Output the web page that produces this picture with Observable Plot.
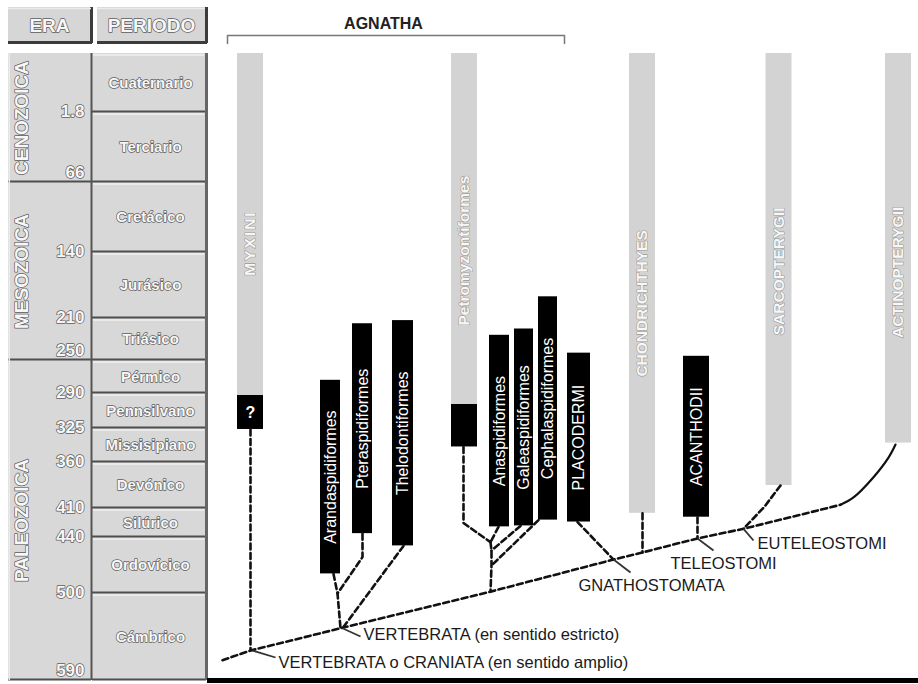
<!DOCTYPE html>
<html><head><meta charset="utf-8">
<script src="https://cdn.jsdelivr.net/npm/d3@7"></script>
<script src="https://cdn.jsdelivr.net/npm/@observablehq/plot@0.6"></script>
<style>
body{margin:0;background:#fff;}
#chart svg{display:block;}
</style></head><body><div id="chart"></div>
<script>
// ================= DATA =================
// Geologic time scale (Ma)
const ageStops = [0, 1.8, 66, 140, 210, 250, 290, 325, 360, 410, 440, 500, 590];
const eraNames = ["CENOZOICA", "MESOZOICA", "PALEOZOICA"];
const eraStart = [0, 66, 250];
const eraEnd = [66, 250, 590];
const periodNames = ["Cuaternario", "Terciario", "Cretácico", "Jurásico", "Triásico", "Pérmico",
  "Pennsilvano", "Missisipiano", "Devónico", "Silúrico", "Ordovícico", "Cámbrico"];
const periodStart = [0, 1.8, 66, 140, 210, 250, 290, 325, 360, 410, 440, 500];
const periodEnd = [1.8, 66, 140, 210, 250, 290, 325, 360, 410, 440, 500, 590];
const boundaryLabels = ["1.8", "66", "140", "210", "250", "290", "325", "360", "410", "440", "500", "590"];
const boundaryAges = [1.8, 66, 140, 210, 250, 290, 325, 360, 410, 440, 500, 590];
const eraEndLabels = ["66", "250", "590"];

// Taxa
const taxonNames = ["MYXINI", "Arandaspidiformes", "Pteraspidiformes", "Thelodontiformes",
  "Petromyzontiformes", "Anaspidiformes", "Galeaspidiformes", "Cephalaspidiformes",
  "PLACODERMI", "CHONDRICHTHYES", "ACANTHODII", "SARCOPTERYGII", "ACTINOPTERYGII"];
// living lineages (grey): from present (0 Ma) back to this age
const livingUntil = [292, null, null, null, 301, null, null, null, null, 415, null, 385, 340];
const livingLabelAge = [130, null, null, null, 138, null, null, null, null, 194, null, 160, 161];
// fossil record (black): top and bottom ages (Ma)
const fossilTop = [292, 274, 215, 212, 301, 226, 220, 187, 243, null, 246, null, null];
const fossilBottom = [326, 479, 436, 449, 344, 429, 428, 422, 424, null, 419, null, null];
const fossilLabel = ["?", "Arandaspidiformes", "Pteraspidiformes", "Thelodontiformes", "",
  "Anaspidiformes", "Galeaspidiformes", "Cephalaspidiformes", "PLACODERMI", null, "ACANTHODII", null, null];

// Clade names
const groupName = "AGNATHA";
const nodeLabelNames = ["VERTEBRATA o CRANIATA (en sentido amplio)", "VERTEBRATA (en sentido estricto)",
  "GNATHOSTOMATA", "TELEOSTOMI", "EUTELEOSTOMI"];

// ================= LAYOUT (positions / sizes) =================
const column = [250, 330, 362, 402.5, 464, 499, 523.5, 547.5, 578.5, 642, 696, 778.5, 898];
const fossilWidth = [26, 20, 20, 21, 26, 20, 19, 19, 23, null, 26, null, null];
const livingWidth = 26;
const eraCol = [8, 91], periodCol = [92, 206];
const agnathaSpan = [227, 564];

// tree nodes [layout x, age Ma]
const N = {
  base: [222, 569], craniata: [250, 559], vertebrata: [340, 536], jPter: [337, 500],
  bPter: [362, 461], petroClade: [490, 498], jCeph: [491, 470], jGalea: [491, 454],
  jAnasp: [490, 445], bPetro: [463, 425], gnatho: [613, 463.6], jChondr: [642, 456],
  teleo: [697, 441], euteleo: [743, 431], actinoCurve: [840, 406]
};
const stemPath = ["base", "craniata", "vertebrata", "petroClade", "gnatho", "jChondr", "teleo", "euteleo", "actinoCurve"];
const branches = [
  [[250, 326], N.craniata],
  [[333, 479], N.jPter, N.vertebrata],
  [[362, 436], N.bPter, N.jPter],
  [[403, 449], [342, 536]],
  [[463, 344], N.bPetro, N.jAnasp],
  [[498, 429], N.jAnasp],
  [[520, 428], N.jGalea],
  [[538, 422], N.jCeph],
  [N.jAnasp, N.jGalea, N.jCeph, N.petroClade],
  [[577, 424], N.gnatho],
  [[642, 415], N.jChondr],
  [[697, 419], N.teleo],
  [[780, 385], [764, 408], N.euteleo]
];
const actinoCurve = [N.actinoCurve, [853, 398], [873, 376], [888, 355], [895, 341.5]];
// node label ticks: [node, tick end, label position]
const nodeTicks = [
  [[252, 559], [275, 566.2], [278, 571.4]],
  [[342, 536], [360, 544.5], [363, 542.4]],
  [N.gnatho, [630, 477.5], [578, 491.4]],
  [N.teleo, [713, 454], [670, 467.9]],
  [N.euteleo, [753, 443.2], [757, 446.4]]
];

// ================= BUILD =================
const FONT = "'Liberation Sans', Arial, Helvetica, sans-serif";
const W = 918;
const EMB = "#f7f7f7";      // embossed light text
const yOpts = {type: "linear", domain: ageStops, range: [0, 59, 129, 199, 265, 307, 340, 375, 409, 455, 484, 540, 627]};
const yS = Plot.scale({y: yOpts});
const mid = (a, b) => yS.invert((yS.apply(a) + yS.apply(b)) / 2);
const xOpts = {type: "linear", domain: [0, W], range: [0, W]};
// embossed text style: light fill with dark rim
const emb = {fill: EMB, stroke: "#5c5c5c", strokeWidth: 1.4, paintOrder: "stroke", fontWeight: "bold"};
const embSoft = {fill: EMB, stroke: "#9a9a9a", strokeWidth: 1.2, paintOrder: "stroke", fontWeight: "bold"};

const eras = eraNames.map((n, i) => ({name: n, start: eraStart[i], end: eraEnd[i], mid: mid(eraStart[i], eraEnd[i])}));
const periods = periodNames.map((n, i) => ({name: n, start: periodStart[i], end: periodEnd[i], mid: mid(periodStart[i], periodEnd[i])}));
const bounds = boundaryLabels.map((l, i) => ({label: l, age: boundaryAges[i], eraEnd: eraEndLabels.includes(l)}));

const living = [], fossils = [];
taxonNames.forEach((n, i) => {
  if (livingUntil[i] != null) living.push({name: n, x: column[i], top: 0, bottom: livingUntil[i], labelAge: livingLabelAge[i]});
  if (fossilTop[i] != null) fossils.push({name: n, x: column[i], w: fossilWidth[i], top: fossilTop[i], bottom: fossilBottom[i],
    label: fossilLabel[i], mid: mid(fossilTop[i], fossilBottom[i])});
});

const segs = [];
const addPath = (pts, id) => pts.forEach(p => segs.push({id, x: p[0], y: p[1]}));
addPath(stemPath.map(k => N[k]), "stem");
branches.forEach((b, i) => addPath(b, "b" + i));
const curvePts = actinoCurve.map(p => ({x: p[0], y: p[1]}));
const ticks = nodeTicks.map((t, i) => ({x1: t[0][0], y1: t[0][1], x2: t[1][0], y2: t[1][1], lx: t[2][0], ly: t[2][1], label: nodeLabelNames[i]}));

const header = Plot.plot({
  width: W, height: 53, margin: 0,
  x: xOpts, y: {type: "linear", domain: [0, 53], range: [0, 53]},
  style: {fontFamily: FONT, background: "white"},
  marks: [
    Plot.rect([{a: eraCol[0], b: eraCol[1] + 1}, {a: 97, b: 207}], {x1: "a", x2: "b", y1: 7, y2: 43, fill: "#d6d6d6"}),
    Plot.ruleY([{a: eraCol[0], b: eraCol[1] + 1}, {a: 97, b: 207}], {x1: "a", x2: "b", y: 42, stroke: "#3c3c3c", strokeWidth: 3}),
    Plot.ruleX([{x: eraCol[1]}, {x: 206}], {x: "x", y1: 7, y2: 43, stroke: "#3c3c3c", strokeWidth: 3}),
    Plot.ruleY([{a: eraCol[0], b: eraCol[1]}, {a: 97, b: 205}], {x1: "a", x2: "b", y: 8, stroke: "#ececec", strokeWidth: 1.5}),
    Plot.text([{t: "ERA", x: 49}, {t: "PERIODO", x: 151}], {x: "x", y: 25, text: "t", fontSize: 19, textAnchor: "middle", ...emb}),
    Plot.line([[agnathaSpan[0], 43], [agnathaSpan[0], 35], [agnathaSpan[1], 35], [agnathaSpan[1], 43]], {stroke: "#777", strokeWidth: 1.5}),
    Plot.text([groupName], {x: 383, y: 23, fontSize: 16, fontWeight: "bold", fill: "#222"})
  ]
});

const main = Plot.plot({
  width: W, height: 631, margin: 0,
  x: xOpts, y: yOpts,
  style: {fontFamily: FONT, background: "white"},
  marks: [
    // geologic panel
    Plot.rect(eras, {x1: eraCol[0], x2: eraCol[1], y1: "start", y2: "end", fill: "#d8d8d8"}),
    Plot.rect(periods, {x1: periodCol[0], x2: periodCol[1], y1: "start", y2: "end", fill: "#d8d8d8"}),
    Plot.ruleY(periods, {y: "start", x1: periodCol[0] + 1, x2: periodCol[1] - 2, stroke: "#f0f0f0", strokeWidth: 1.5, dy: 1.5}),
    Plot.ruleY(periods, {y: "end", x1: periodCol[0], x2: periodCol[1], stroke: "#4e4e4e", strokeWidth: 2, dy: -1}),
    Plot.ruleY(eras, {y: "end", x1: eraCol[0], x2: eraCol[1], stroke: "#4e4e4e", strokeWidth: 2, dy: -1}),
    Plot.ruleX([eraCol[1]], {y1: 0, y2: 590, stroke: "#555", strokeWidth: 2}),
    Plot.ruleX([periodCol[1]], {y1: 0, y2: 590, stroke: "#666", strokeWidth: 3}),
    Plot.ruleX([eraCol[0]], {y1: 0, y2: 590, stroke: "#ececec", strokeWidth: 1.5, dx: 0.75}),
    Plot.text(eras, {x: 21, y: "mid", text: "name", rotate: -90, fontSize: 19, ...emb}),
    Plot.text(periods, {x: 150, y: "mid", text: "name", fontSize: 15, ...emb}),
    Plot.text(bounds.filter(d => !d.eraEnd), {x: 84, y: "age", text: "label", fontSize: 17, textAnchor: "end", dy: -1, ...emb}),
    Plot.text(bounds.filter(d => d.eraEnd), {x: 84, y: "age", text: "label", fontSize: 17, textAnchor: "end", dy: -10, ...emb}),
    // base line
    Plot.ruleY([590], {x1: 207, x2: W, stroke: "#000", strokeWidth: 5}),
    // living lineages
    Plot.rect(living, {x1: d => d.x - livingWidth / 2, x2: d => d.x + livingWidth / 2, y1: "top", y2: "bottom", fill: "#d3d3d3"}),
    Plot.text(living, {x: "x", y: "labelAge", text: "name", rotate: -90, fontSize: 15.5, ...embSoft}),
    // fossil ranges
    Plot.rect(fossils, {x1: d => d.x - d.w / 2, x2: d => d.x + d.w / 2, y1: "top", y2: "bottom", fill: "#000"}),
    Plot.text(fossils.filter(d => d.label && d.label !== "?"), {x: "x", y: "mid", text: "label", rotate: -90, fontSize: 16, fill: "#fff"}),
    Plot.text(fossils.filter(d => d.label === "?"), {x: "x", y: "mid", text: "label", fontSize: 16, fontWeight: "bold", fill: "#fff"}),
    // tree
    Plot.line(segs, {x: "x", y: "y", z: "id", stroke: "#111", strokeWidth: 2.6, strokeDasharray: "6,3.5"}),
    Plot.line(curvePts, {x: "x", y: "y", stroke: "#111", strokeWidth: 2.2, curve: "catmull-rom"}),
    Plot.link(ticks, {x1: "x1", y1: "y1", x2: "x2", y2: "y2", stroke: "#333", strokeWidth: 1.8}),
    Plot.text(ticks, {x: "lx", y: "ly", text: "label", textAnchor: "start", fontSize: 16.5, fill: "#1a1a1a"})
  ]
});

const c = document.getElementById("chart");
c.appendChild(header);
c.appendChild(main);
main.querySelectorAll("text").forEach(t => { if (t.textContent === "MYXINI") t.style.letterSpacing = "2px"; });
</script></body></html>
